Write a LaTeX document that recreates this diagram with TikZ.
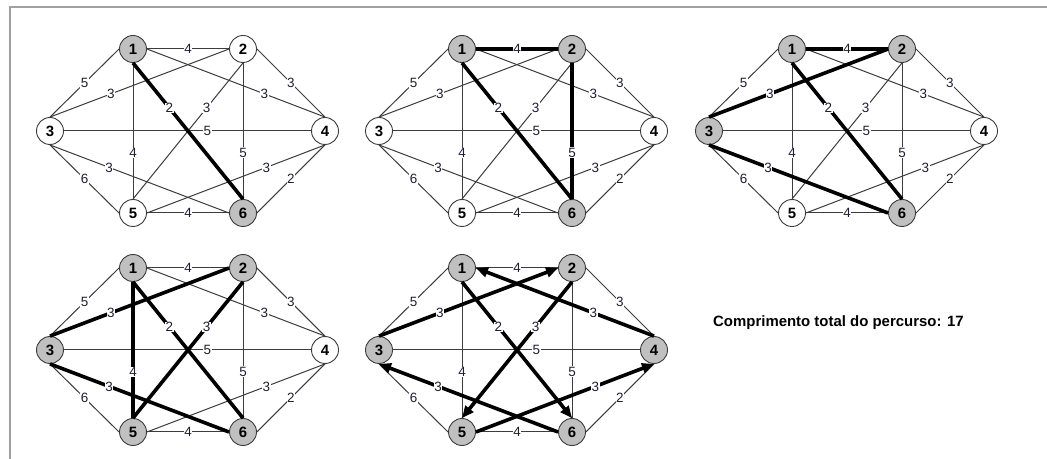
\documentclass[tikz,border=0pt]{standalone}
\usepackage{fontspec}
\setmainfont{Liberation Sans}
\usetikzlibrary{calc,arrows.meta}
\definecolor{nodegray}{RGB}{192,192,192}
\definecolor{edgegray}{RGB}{60,60,60}
\definecolor{framegray}{RGB}{160,160,160}
\definecolor{lbltext}{RGB}{30,30,50}
\tikzset{
  vx/.style={circle, draw=edgegray, line width=0.9bp, minimum size=27bp, inner sep=0pt,
             font=\bfseries\fontsize{15}{15}\selectfont},
  vg/.style={vx, fill=nodegray},
  vw/.style={vx, fill=white},
  thinedge/.style={draw=edgegray, line width=1bp},
  thickedge/.style={draw=black, line width=3.6bp},
  tour/.style={thickedge, -{Triangle[length=12bp,width=10bp]}},
  lbl/.style={fill=white, inner sep=0.6bp, text=lbltext, font=\fontsize{13.5}{13.5}\selectfont},
}
\newcommand\basegraph[9]{%
  \begin{scope}[shift={(#2,#3)}]
    \node[#4] (#1-1) at (133,49) {1};
    \node[#5] (#1-2) at (243,49) {2};
    \node[#6] (#1-3) at (50,131) {3};
    \node[#7] (#1-4) at (325,131) {4};
    \node[#8] (#1-5) at (133,213) {5};
    \node[#9] (#1-6) at (243,213) {6};
  \end{scope}
  \foreach \a/\sa/\b/\sb in {1/east/2/west,1/west/3/north,1/east/4/north,1/south/5/north,
      1/south/6/north,2/west/3/north,2/east/4/north,2/south/5/north,2/south/6/north,
      3/east/4/west,3/south/5/west,3/south/6/west,4/south/5/east,4/south/6/east,5/east/6/west}
    {\draw[thinedge] (#1-\a.\sa) -- (#1-\b.\sb);}
}
\newcommand\edgelabels[1]{%
  \node[lbl] (#1-l12) at ($(#1-1.east)!0.5!(#1-2.west)$) {4};
  \node[lbl] (#1-l13) at ($(#1-1.west)!0.5!(#1-3.north)$) {5};
  \node[lbl] (#1-l14) at ($(#1-1.east)!0.66!(#1-4.north)$) {3};
  \node[lbl] (#1-l15) at ($(#1-1.south)!0.66!(#1-5.north)$) {4};
  \node[lbl] (#1-l16) at ($(#1-1.south)!0.33!(#1-6.north)$) {2};
  \node[lbl] (#1-l23) at ($(#1-2.west)!0.66!(#1-3.north)$) {3};
  \node[lbl] (#1-l24) at ($(#1-2.east)!0.5!(#1-4.north)$) {3};
  \node[lbl] (#1-l25) at ($(#1-2.south)!0.33!(#1-5.north)$) {3};
  \node[lbl] (#1-l26) at ($(#1-2.south)!0.66!(#1-6.north)$) {5};
  \node[lbl] (#1-l34) at ($(#1-3.east)!0.58!(#1-4.west)$) {5};
  \node[lbl] (#1-l35) at ($(#1-3.south)!0.5!(#1-5.west)$) {6};
  \node[lbl] (#1-l36) at ($(#1-3.south)!0.33!(#1-6.west)$) {3};
  \node[lbl] (#1-l45) at ($(#1-4.south)!0.33!(#1-5.east)$) {3};
  \node[lbl] (#1-l46) at ($(#1-4.south)!0.5!(#1-6.east)$) {2};
  \node[lbl] (#1-l56) at ($(#1-5.east)!0.5!(#1-6.west)$) {4};
}
\begin{document}
\begin{tikzpicture}[x=1bp,y=-1bp]
\useasboundingbox (0,0) rectangle (1047,459);
\fill[white] (0,0) rectangle (1047,459);
\draw[framegray, line width=2bp] (9.5,460) -- (9.5,7) -- (1048,7);

% graph A (top left)
\basegraph{a}{0}{0}{vg}{vw}{vw}{vw}{vw}{vg}
\draw[thickedge] (a-1.south) -- (a-6.north);
\edgelabels{a}

% graph B (top middle)
\basegraph{b}{329}{0}{vg}{vg}{vw}{vw}{vw}{vg}
\draw[thickedge] (b-1.south) -- (b-6.north);
\draw[thickedge] (b-1.east) -- (b-2.west);
\draw[thickedge] (b-2.south) -- (b-6.north);
\edgelabels{b}

% graph C (top right)
\basegraph{c}{659}{0}{vg}{vg}{vg}{vw}{vw}{vg}
\draw[thickedge] (c-1.south) -- (c-6.north);
\draw[thickedge] (c-1.east) -- (c-2.west);
\draw[thickedge] (c-2.west) -- (c-3.north);
\draw[thickedge] (c-3.south) -- (c-6.west);
\edgelabels{c}

% graph D (bottom left)
\basegraph{d}{0}{219}{vg}{vg}{vg}{vw}{vg}{vg}
\draw[thickedge] (d-1.south) -- (d-6.north);
\draw[thickedge] (d-1.south) -- (d-5.north);
\draw[thickedge] (d-2.west) -- (d-3.north);
\draw[thickedge] (d-2.south) -- (d-5.north);
\draw[thickedge] (d-3.south) -- (d-6.west);
\edgelabels{d}

% graph E (bottom middle) - tour
\basegraph{e}{329}{219}{vg}{vg}{vg}{vg}{vg}{vg}
\draw[tour] (e-1.south) -- (e-6.north);
\draw[tour] (e-6.west) -- (e-3.south);
\draw[tour] (e-3.north) -- (e-2.west);
\draw[tour] (e-2.south) -- (e-5.north);
\draw[tour] (e-5.east) -- (e-4.south);
\draw[tour] (e-4.north) -- (e-1.east);
\edgelabels{e}

\node[anchor=west, inner sep=0pt, font=\bfseries\fontsize{15}{15}\selectfont] (total) at (713,323) {Comprimento total do percurso: 17};
\end{tikzpicture}
\end{document}
